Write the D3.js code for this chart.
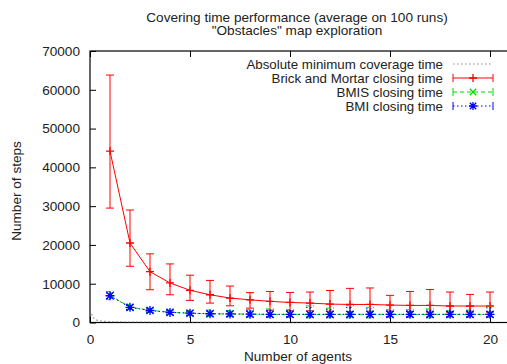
<!DOCTYPE html>
<html><head><meta charset="utf-8">
<script src="https://cdn.jsdelivr.net/npm/d3@7"></script>
<style>
html,body{margin:0;padding:0;background:#fff;}
svg{display:block;}
text{font-family:"Liberation Sans",Arial,Helvetica,sans-serif;font-size:13.6px;fill:#222;}
</style></head>
<body>
<script>
const titleLines = ["Covering time performance (average on 100 runs)", "\"Obstacles\" map exploration"];
const xLabel = "Number of agents";
const yLabel = "Number of steps";
const xTicks = [0, 5, 10, 15, 20];
const yTicks = [0, 10000, 20000, 30000, 40000, 50000, 60000, 70000];
const agents = [1,2,3,4,5,6,7,8,9,10,11,12,13,14,15,16,17,18,19,20];

const seriesNames = ["Absolute minimum coverage time","Brick and Mortar closing time","BMIS closing time","BMI closing time"];

// absolute minimum (gray dotted)
const minX = [0.08,0.15,0.25,0.4,0.6,0.8,1,1.5,2,3,4,5,6,8,10,12,14,16,18,20];
const minY = [2200,1300,800,500,340,260,210,140,105,70,52,42,35,27,21,18,15,13,12,10];

// Brick and Mortar
const bmMean = [44200,20500,13100,10200,8300,7150,6300,5850,5450,5170,5000,4750,4650,4650,4500,4400,4400,4250,4250,4250];
const bmLow  = [29500,14500,8450,7150,5700,5000,4300,3700,3200,3000,3000,2900,2800,2900,2900,2800,2700,2700,2700,2700];
const bmHigh = [63800,29000,17700,15100,12200,10850,9400,7700,8000,7750,7850,8250,8800,8900,7000,8000,8500,7850,7250,7850];

// BMIS
const bmisMean = [7000,3950,3150,2650,2400,2250,2200,2150,2100,2100,2100,2100,2100,2100,2100,2100,2100,2100,2100,2100];
const bmisLow  = [5900,3300,2600,2000,1800,1600,1500,1400,1300,1300,1200,1200,1200,1200,1300,1300,1200,1300,1300,1300];
const bmisHigh = [8000,4600,3700,3200,3100,3200,3100,3300,3500,3300,4300,3700,4400,3900,3300,3300,3500,3000,3200,4300];

// BMI
const bmiMean = [6900,3900,3100,2600,2400,2250,2200,2150,2100,2100,2100,2100,2100,2100,2100,2100,2100,2100,2100,2100];
const bmiLow  = [6200,3400,2700,2200,1900,1700,1600,1500,1500,1500,1400,1400,1400,1400,1500,1500,1400,1500,1500,1500];
const bmiHigh = [7600,4400,3500,3000,2900,3000,2900,3000,3100,3000,3900,3400,3900,3500,3000,3000,3200,2900,3000,3800];

const W = 507, H = 364;
const svg = d3.select("body").append("svg").attr("width", W).attr("height", H);

const x = d3.scaleLinear().domain([0, 21]).range([90, 510]);
const y = d3.scaleLinear().domain([0, 70000]).range([322.5, 51]);

// title
svg.selectAll("text.title").data(titleLines).enter().append("text")
  .attr("x", 297).attr("y", (d,i)=>21.5 + i*13.5)
  .attr("text-anchor","middle").text(d=>d);

// frame
svg.append("rect").attr("x", x(0)).attr("y", y(70000))
  .attr("width", x(21)-x(0)).attr("height", y(0)-y(70000))
  .attr("fill","none").attr("stroke","#000").attr("stroke-width",1.2);

const tickLen = 6;
const xAxis = d3.axisBottom(x).tickValues(xTicks).tickSize(-tickLen).tickPadding(tickLen+6).tickFormat(d3.format("d"));
const gx = svg.append("g").attr("transform",`translate(0,${y(0)})`).call(xAxis);
const xAxisTop = d3.axisTop(x).tickValues(xTicks).tickSize(-tickLen).tickFormat("");
const gxt = svg.append("g").attr("transform",`translate(0,${y(70000)})`).call(xAxisTop);
const yAxis = d3.axisLeft(y).tickValues(yTicks).tickSize(-tickLen).tickPadding(tickLen+4).tickFormat(d3.format("d"));
const gy = svg.append("g").attr("transform",`translate(${x(0)},0)`).call(yAxis);
[gx,gxt,gy].forEach(g=>{
  g.select(".domain").remove();
  g.selectAll(".tick line").attr("stroke","#000");
  g.selectAll(".tick text").attr("fill","#222").style("font-size","13.6px")
   .style("font-family","\"Liberation Sans\",Arial,sans-serif");
});

// axis labels
svg.append("text").attr("x", 298).attr("y", 361).attr("text-anchor","middle").text(xLabel);
svg.append("text").attr("transform","translate(21,191) rotate(-90)").attr("text-anchor","middle").text(yLabel);

const plot = svg.append("g");
const clipId = "clipP";
svg.append("clipPath").attr("id",clipId).append("rect")
  .attr("x",x(0)).attr("y",y(70000)).attr("width",x(21)-x(0)).attr("height",y(0)-y(70000));
plot.attr("clip-path",`url(#${clipId})`);

const line = d3.line().x(d=>x(d[0])).y(d=>y(d[1]));

// gray dotted min
plot.append("path").datum(minX.map((v,i)=>[v,minY[i]]))
  .attr("d", line).attr("fill","none").attr("stroke","#888")
  .attr("stroke-width",1.2).attr("stroke-dasharray","1.5,2.5");

function markerPath(type, cx, cy, s){
  const p = d3.path();
  if (type==="plus" || type==="star"){
    p.moveTo(cx-s,cy); p.lineTo(cx+s,cy); p.moveTo(cx,cy-s); p.lineTo(cx,cy+s);
  }
  if (type==="cross" || type==="star"){
    const k = s*0.8;
    p.moveTo(cx-k,cy-k); p.lineTo(cx+k,cy+k); p.moveTo(cx-k,cy+k); p.lineTo(cx+k,cy-k);
  }
  return p.toString();
}

function drawSeries(mean, low, high, color, dash, marker, ms){
  const g = plot.append("g");
  const data = agents.map((a,i)=>({a, m:mean[i], lo:low[i], hi:high[i]}));
  const cap = 4;
  g.selectAll("path.err").data(data).enter().append("path")
    .attr("d", d=>{
      const cx = x(d.a);
      return `M${cx},${y(d.lo)}V${y(d.hi)}M${cx-cap},${y(d.lo)}H${cx+cap}M${cx-cap},${y(d.hi)}H${cx+cap}`;
    })
    .attr("fill","none").attr("stroke",color).attr("stroke-width",1)
    .attr("stroke-dasharray", dash || null);
  g.append("path").datum(data.map(d=>[d.a,d.m])).attr("d", line)
    .attr("fill","none").attr("stroke",color).attr("stroke-width",1)
    .attr("stroke-dasharray", dash || null);
  g.selectAll("path.mk").data(data).enter().append("path")
    .attr("d", d=>markerPath(marker, x(d.a), y(d.m), ms))
    .attr("fill","none").attr("stroke",color).attr("stroke-width",1.3);
}

drawSeries(bmMean, bmLow, bmHigh, "#ff0000", null, "plus", 4);
drawSeries(bmisMean, bmisLow, bmisHigh, "#00dd00", "4,3", "cross", 4);
drawSeries(bmiMean, bmiLow, bmiHigh, "#0000ff", "1.5,2.5", "star", 4.5);

// legend
const legend = svg.append("g");
const legendStyles = [
  {color:"#888", dash:"1.5,2.5", marker:null, err:false},
  {color:"#ff0000", dash:null, marker:"plus", err:true},
  {color:"#00dd00", dash:"4,3", marker:"cross", err:true},
  {color:"#0000ff", dash:"1.5,2.5", marker:"star", err:true}
];
const lx0 = 453, lx1 = 493, ltx = 443;
seriesNames.forEach((name,i)=>{
  const ly = 64 + i*14;
  const st = legendStyles[i];
  legend.append("text").attr("x", ltx).attr("y", ly).attr("dy","0.35em")
    .attr("text-anchor","end").style("font-size","13.3px").text(name);
  legend.append("path").attr("d",`M${lx0},${ly}H${lx1}`)
    .attr("stroke",st.color).attr("stroke-width",1).attr("fill","none")
    .attr("stroke-dasharray", st.dash||null);
  if (st.err){
    legend.append("path").attr("d",`M${lx0},${ly-4}V${ly+4}M${lx1},${ly-4}V${ly+4}`)
      .attr("stroke",st.color).attr("stroke-width",1).attr("fill","none");
  }
  if (st.marker){
    legend.append("path").attr("d", markerPath(st.marker, (lx0+lx1)/2, ly, 4))
      .attr("stroke",st.color).attr("stroke-width",1.3).attr("fill","none");
  }
});
</script>
</body></html>
